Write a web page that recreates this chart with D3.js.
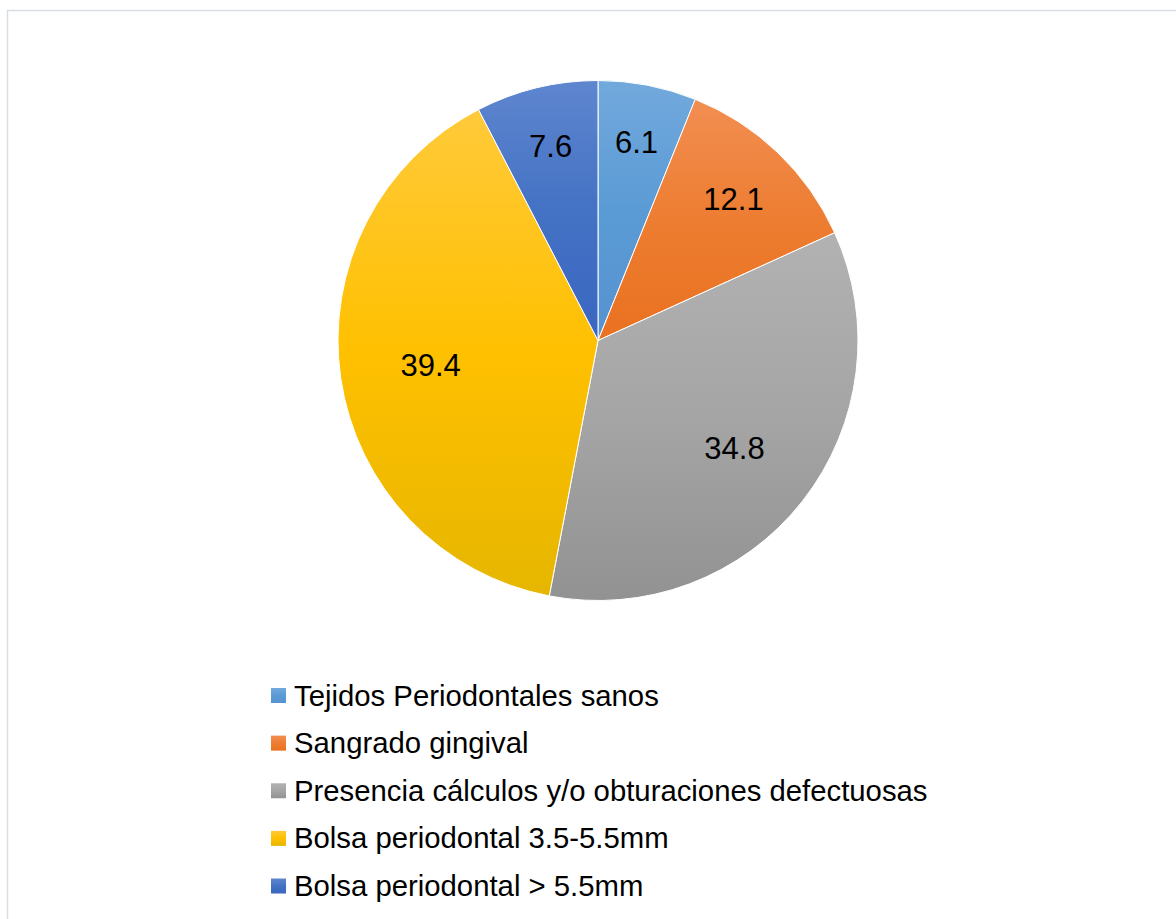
<!DOCTYPE html>
<html>
<head>
<meta charset="utf-8">
<script src="https://cdn.jsdelivr.net/npm/d3@7"></script>
<style>
  html, body { margin: 0; padding: 0; background: #fff; }
  svg { display: block; }
</style>
</head>
<body>
<svg id="chart" width="1176" height="919"></svg>
<script>
const categories = [
  "Tejidos Periodontales sanos",
  "Sangrado gingival",
  "Presencia cálculos y/o obturaciones defectuosas",
  "Bolsa periodontal 3.5-5.5mm",
  "Bolsa periodontal > 5.5mm"
];
const values = [6.1, 12.1, 34.8, 39.4, 7.6];
const labels = ["6.1", "12.1", "34.8", "39.4", "7.6"];
const colorTop = ["#72a9dd", "#f28e52", "#b2b2b2", "#ffca3a", "#5f86cf"];
const colorMid = ["#5b9bd5", "#ed7d31", "#a5a5a5", "#ffc000", "#4472c4"];
const colorBottom = ["#5593d0", "#ea7120", "#929292", "#e6b600", "#3a66c1"];

const svg = d3.select("#chart");
const W = 1176, H = 919;
const cx = 598, cy = 340.5, R = 260;

// border
svg.append("rect")
  .attr("x", 7.5).attr("y", 10.5)
  .attr("width", W + 20).attr("height", H + 20)
  .attr("fill", "none")
  .attr("stroke", "#d9dde4")
  .attr("stroke-width", 1.5);

const defs = svg.append("defs");
categories.forEach((c, i) => {
  const g = defs.append("linearGradient")
    .attr("id", "grad" + i)
    .attr("x1", 0).attr("y1", 0).attr("x2", 0).attr("y2", 1);
  g.append("stop").attr("offset", "0%").attr("stop-color", colorTop[i]);
  g.append("stop").attr("offset", "50%").attr("stop-color", colorMid[i]);
  g.append("stop").attr("offset", "100%").attr("stop-color", colorBottom[i]);
});

const data = categories.map((c, i) => ({ cat: c, value: values[i], label: labels[i], i }));
const total = d3.sum(values);

const pie = d3.pie().value(d => d.value).sort(null);
const arcs = pie(data);
const arc = d3.arc().innerRadius(0).outerRadius(R);

const gPie = svg.append("g").attr("transform", `translate(${cx},${cy})`);

gPie.selectAll("path.slice")
  .data(arcs)
  .join("path")
  .attr("class", "slice")
  .attr("d", arc)
  .attr("fill", d => `url(#grad${d.data.i})`)
  .attr("stroke", "#ffffff")
  .attr("stroke-width", 1);

gPie.selectAll("text.lbl")
  .data(arcs)
  .join("text")
  .attr("class", "lbl")
  .attr("transform", d => {
    const f = d.data.value / total;
    const r = R * (0.80 - 0.38 * f);
    const la = d3.arc().innerRadius(r).outerRadius(r);
    const [x, y] = la.centroid(d);
    return `translate(${x},${y})`;
  })
  .attr("text-anchor", "middle")
  .attr("dy", "0.36em")
  .attr("font-family", "Liberation Sans, Arial, sans-serif")
  .attr("font-size", 31)
  .attr("fill", "#000")
  .text(d => d.data.label);

// legend
const legend = svg.append("g").attr("transform", "translate(271,0)");
const rowY = d3.scalePoint().domain(categories).range([695.5, 886]);
const rows = legend.selectAll("g.row")
  .data(data)
  .join("g")
  .attr("class", "row")
  .attr("transform", d => `translate(0,${rowY(d.cat)})`);
rows.append("rect")
  .attr("x", 0).attr("y", -7.5)
  .attr("width", 15).attr("height", 15)
  .attr("fill", d => `url(#grad${d.i})`);
rows.append("text")
  .attr("x", 23)
  .attr("y", 10)
  .attr("font-family", "Liberation Sans, Arial, sans-serif")
  .attr("font-size", 29.3)
  .attr("fill", "#000")
  .text(d => d.cat);
</script>
</body>
</html>
